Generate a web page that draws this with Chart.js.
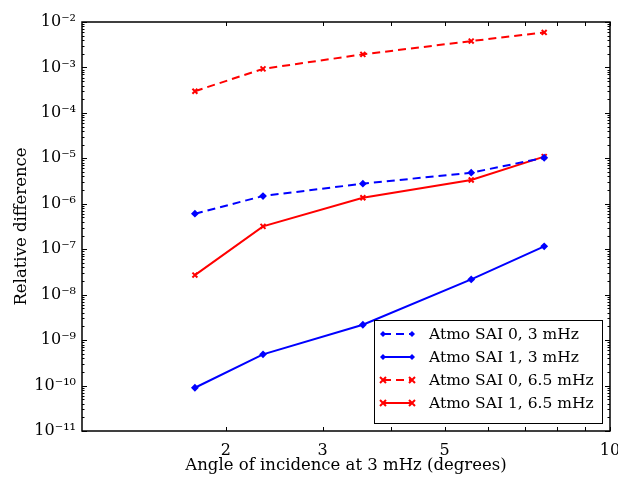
<!DOCTYPE html>
<html>
<head>
<meta charset="utf-8">
<script src="https://cdn.jsdelivr.net/npm/chart.js@4/dist/chart.umd.min.js"></script>
<style>
  html, body { margin: 0; padding: 0; background: #fff; }
  canvas { display: block; }
</style>
</head>
<body>
<canvas id="fig" width="618" height="477"></canvas>
<script>
// angle of incidence (degrees)
var xAngles = [1.756, 2.336, 3.55, 5.59, 7.59];
// relative difference
var sai0_3mHz  = [6.05e-7, 1.48e-6, 2.77e-6, 4.83e-6, 1.03e-5];
var sai1_3mHz  = [8.95e-11, 4.86e-10, 2.18e-9, 2.17e-8, 1.16e-7];
var sai0_65mHz = [3.0e-4, 9.3e-4, 1.94e-3, 3.8e-3, 5.9e-3];
var sai1_65mHz = [2.7e-8, 3.18e-7, 1.36e-6, 3.33e-6, 1.09e-5];
var labels = ["Atmo SAI 0, 3 mHz", "Atmo SAI 1, 3 mHz", "Atmo SAI 0, 6.5 mHz", "Atmo SAI 1, 6.5 mHz"];
var xTicks = [2, 3, 5, 10];
var yExps = [-11, -10, -9, -8, -7, -6, -5, -4, -3, -2];

var SERIF = "'DejaVu Serif', serif";
var sup = {"-": "\u207B", "0": "\u2070", "1": "\u00B9", "2": "\u00B2", "3": "\u00B3", "4": "\u2074",
           "5": "\u2075", "6": "\u2076", "7": "\u2077", "8": "\u2078", "9": "\u2079"};
function pow10Label(e) {
  return "10" + String(e).split("").map(function (c) { return sup[c]; }).join("");
}
function pts(ys) {
  return xAngles.map(function (x, i) { return {x: x, y: ys[i]}; });
}
function ds(i, ys, color, dashed, marker) {
  return {
    label: labels[i], data: pts(ys),
    borderColor: color, backgroundColor: color,
    borderWidth: 2, borderDash: dashed ? [8, 5] : [],
    pointStyle: marker, pointRadius: marker === "crossRot" ? 3.5 : 2.5,
    pointBorderWidth: 2, tension: 0
  };
}

// frame + inward ticks like the original figure
var framePlugin = {
  id: "frame",
  beforeDatasetsDraw: function (chart) {
    var a = chart.chartArea, ctx = chart.ctx;
    var xs = chart.scales.x, ys = chart.scales.y;
    ctx.save();
    ctx.strokeStyle = "#000";
    ctx.lineWidth = 1;
    ctx.beginPath();
    for (var v = 2; v <= 10; v++) {
      var px = Math.round(xs.getPixelForValue(v)) + 0.5;
      ctx.moveTo(px, a.bottom); ctx.lineTo(px, a.bottom - 4);
      ctx.moveTo(px, a.top); ctx.lineTo(px, a.top + 4);
    }
    for (var e = -11; e <= -2; e++) {
      for (var m = 1; m <= 9; m++) {
        if (e === -2 && m > 1) break;
        var py = Math.round(ys.getPixelForValue(m * Math.pow(10, e))) + 0.5;
        var len = m === 1 ? 5 : 2.5;
        ctx.moveTo(a.left, py); ctx.lineTo(a.left + len, py);
        ctx.moveTo(a.right, py); ctx.lineTo(a.right - len, py);
      }
    }
    ctx.stroke();
    ctx.lineWidth = 1.5;
    ctx.strokeRect(a.left, a.top, a.right - a.left, a.bottom - a.top);
    ctx.restore();
  }
};

function marker(ctx, style, x, y, color) {
  ctx.save();
  ctx.strokeStyle = color; ctx.fillStyle = color; ctx.lineWidth = 2;
  ctx.setLineDash([]);
  ctx.beginPath();
  if (style === "crossRot") {
    ctx.moveTo(x - 3, y - 3); ctx.lineTo(x + 3, y + 3);
    ctx.moveTo(x + 3, y - 3); ctx.lineTo(x - 3, y + 3);
    ctx.stroke();
  } else {
    ctx.moveTo(x, y - 3); ctx.lineTo(x + 3, y); ctx.lineTo(x, y + 3); ctx.lineTo(x - 3, y);
    ctx.closePath(); ctx.fill();
  }
  ctx.restore();
}

// legend inside the axes, lower right
var legendPlugin = {
  id: "innerLegend",
  afterDraw: function (chart) {
    var a = chart.chartArea, ctx = chart.ctx;
    var w = 228, h = 103;
    var x0 = a.right - 8 - w, y0 = a.bottom - 8 - h;
    ctx.save();
    ctx.fillStyle = "#fff";
    ctx.fillRect(x0, y0, w, h);
    ctx.strokeStyle = "#000"; ctx.lineWidth = 1;
    ctx.strokeRect(x0 + 0.5, y0 + 0.5, w, h);
    ctx.font = "15.5px " + SERIF;
    ctx.textBaseline = "middle";
    chart.data.datasets.forEach(function (d, i) {
      var cy = y0 + 14 + i * 23;
      ctx.strokeStyle = d.borderColor; ctx.lineWidth = 2;
      ctx.setLineDash(d.borderDash);
      ctx.beginPath(); ctx.moveTo(x0 + 9, cy); ctx.lineTo(x0 + 38, cy); ctx.stroke();
      marker(ctx, d.pointStyle, x0 + 9, cy, d.borderColor);
      marker(ctx, d.pointStyle, x0 + 38, cy, d.borderColor);
      ctx.fillStyle = "#000";
      ctx.fillText(d.label, x0 + 55, cy + 1);
    });
    ctx.restore();
  }
};

new Chart(document.getElementById("fig"), {
  type: "line",
  data: {
    datasets: [
      ds(0, sai0_3mHz, "#0000ff", true, "rectRot"),
      ds(1, sai1_3mHz, "#0000ff", false, "rectRot"),
      ds(2, sai0_65mHz, "#ff0000", true, "crossRot"),
      ds(3, sai1_65mHz, "#ff0000", false, "crossRot")
    ]
  },
  options: {
    responsive: false,
    animation: false,
    layout: {padding: {top: 22, right: 8, left: 0, bottom: 0}},
    plugins: {legend: {display: false}, tooltip: {enabled: false}},
    scales: {
      x: {
        type: "logarithmic", min: 1.094, max: 10,
        afterBuildTicks: function (s) { s.ticks = xTicks.map(function (v) { return {value: v}; }); },
        afterFit: function (s) { s.height = 46; s.paddingRight = 0; s.paddingLeft = 0; },
        grid: {display: false, drawTicks: false},
        border: {display: false},
        ticks: {
          color: "#000", padding: 10, maxRotation: 0, autoSkip: false,
          font: {family: SERIF, size: 16},
          callback: function (v) { return String(v); }
        },
        title: {display: true, text: "Angle of incidence at 3 mHz (degrees)", color: "#000",
                font: {family: SERIF, size: 16.5}, padding: {top: 0, bottom: 1}}
      },
      y: {
        type: "logarithmic", min: 1e-11, max: 1e-2,
        afterBuildTicks: function (s) { s.ticks = yExps.map(function (e) { return {value: Math.pow(10, e)}; }); },
        afterFit: function (s) { s.width = 82; s.paddingTop = 0; s.paddingBottom = 0; },
        grid: {display: false, drawTicks: false},
        border: {display: false},
        ticks: {
          color: "#000", padding: 6, autoSkip: false,
          font: {family: SERIF, size: 16},
          callback: function (v) { return pow10Label(Math.round(Math.log10(v))); }
        },
        title: {display: true, text: "Relative difference", color: "#000",
                font: {family: SERIF, size: 16.5}, padding: {top: 12, bottom: 4}}
      }
    }
  },
  plugins: [framePlugin, legendPlugin]
});
</script>
</body>
</html>
